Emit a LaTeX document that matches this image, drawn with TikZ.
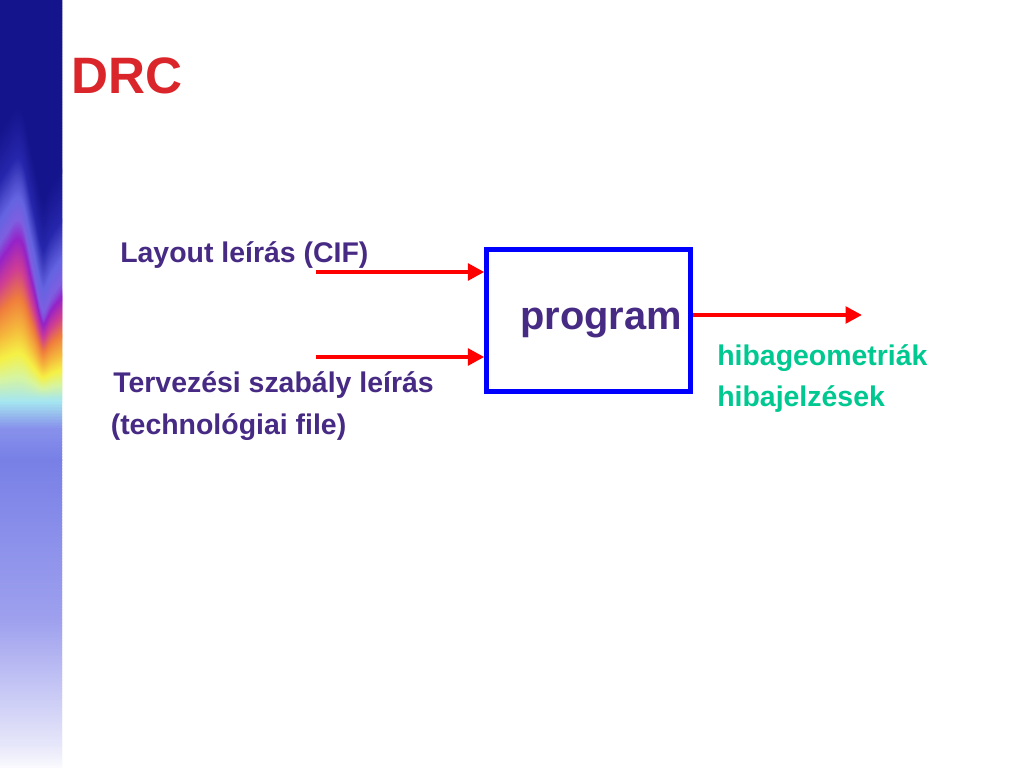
\documentclass[tikz,border=0pt]{standalone}
\usepackage{fontspec}
\setmainfont{Liberation Sans}
\usetikzlibrary{arrows.meta}
\definecolor{labpurple}{RGB}{70,42,132}
\definecolor{labgreen}{RGB}{0,200,145}
\definecolor{titlered}{RGB}{218,38,42}
\definecolor{boxblue}{RGB}{0,0,255}
\definecolor{arrred}{RGB}{255,0,0}
\definecolor{cnavy}{RGB}{20,20,140}
\definecolor{cnavtwo}{RGB}{38,38,172}
\definecolor{cglow}{RGB}{100,100,225}
\definecolor{clav}{RGB}{125,95,225}
\definecolor{cpurp}{RGB}{150,35,200}
\definecolor{cmag}{RGB}{205,60,150}
\definecolor{corng}{RGB}{240,125,60}
\definecolor{cylotwo}{RGB}{245,185,60}
\definecolor{cylw}{RGB}{245,240,70}
\definecolor{cpgrn}{RGB}{215,245,160}
\definecolor{cpcyn}{RGB}{165,230,240}
\definecolor{cbluone}{RGB}{135,145,235}
\definecolor{cblutwo}{RGB}{120,128,230}
\definecolor{cbluthree}{RGB}{158,160,238}
\definecolor{cpale}{RGB}{230,230,250}
\newcommand\stripband[4]{%
  \pgfmathsetmacro\bandn{int((#2-#1)/1.5)}%
  \foreach \k in {0,...,\bandn}{%
    \pgfmathsetmacro\ycur{#1+1.5*\k}%
    \pgfmathsetmacro\pct{int(100*\k/max(\bandn,1))}%
    \pgfmathsetmacro\ampl{90*min(1,max(0,(400-\ycur)/170))}%
    \colorlet{bandcol}{#4!\pct!#3}%
    \draw[bandcol, line width=2pt] plot[smooth, tension=0.6] coordinates
      {(-4,{\ycur+0.34*\ampl}) (8,{\ycur+0.12*\ampl}) (20,{\ycur}) (31,{\ycur+0.5*\ampl})
       (42,{\ycur+\ampl}) (53,{\ycur+0.82*\ampl}) (66,{\ycur+0.62*\ampl})};
  }}
\tikzset{
  lbl/.style={font=\bfseries\fontsize{20}{24}\selectfont, text=labpurple, anchor=base west, inner sep=0pt},
  outlbl/.style={lbl, text=labgreen},
  arr/.style={draw=arrred, line width=3.2pt, -{Triangle[length=11.5pt, width=11.5pt]}},
  progbox/.style={draw=boxblue, line width=3.5pt, minimum width=143.4pt, minimum height=100pt, inner sep=0pt}
}
\begin{document}
\begin{tikzpicture}[x=0.703125pt, y=-0.703125pt]
\useasboundingbox (0,0) rectangle (1024,768);
\fill[white] (0,0) rectangle (1024,768);
% left decorative strip
\begin{scope}
\clip (0,0) rectangle (62,768);
\fill[cnavy] (0,0) rectangle (62,120);
\stripband{-100}{110}{cnavy}{cnavy}
\stripband{110}{160}{cnavy}{cnavtwo}
\stripband{160}{200}{cnavtwo}{cglow}
\stripband{200}{222}{cglow}{clav}
\stripband{222}{242}{clav}{cpurp}
\stripband{242}{270}{cpurp}{cmag}
\stripband{270}{300}{cmag}{corng}
\stripband{300}{330}{corng}{cylotwo}
\stripband{330}{355}{cylotwo}{cylw}
\stripband{355}{378}{cylw}{cpgrn}
\stripband{378}{402}{cpgrn}{cpcyn}
\stripband{402}{430}{cpcyn}{cbluone}
\stripband{430}{460}{cbluone}{cblutwo}
\stripband{460}{620}{cblutwo}{cbluthree}
\stripband{620}{745}{cbluthree}{cpale}
\stripband{745}{775}{cpale}{white}
\end{scope}
% title
\node[anchor=base west, inner sep=0pt, text=titlered, font=\bfseries\fontsize{36}{43}\selectfont] (title) at (71,94) {DRC};
% program box
\node[progbox] (prog) at (588.8,320.4) {};
\node[anchor=base west, inner sep=0pt, text=labpurple, font=\bfseries\fontsize{28}{33}\selectfont] (progtxt) at (520,330) {program};
% input labels
\node[lbl] (inone) at (120,263) {Layout leírás (CIF)};
\node[lbl] (intwoa) at (113,392) {Tervezési szabály leírás};
\node[lbl] (intwob) at (110.5,434) {(technológiai file)};
% output labels
\node[outlbl] (outa) at (717,365) {hibageometriák};
\node[outlbl] (outb) at (717,406) {hibajelzések};
% arrows
\coordinate (sone) at (316,272);
\coordinate (stwo) at (316,357);
\coordinate (eout) at (862,315);
\draw[arr] (sone) -- (sone -| prog.west);
\draw[arr] (stwo) -- (stwo -| prog.west);
\draw[arr] (eout -| prog.east) -- (eout);
\end{tikzpicture}
\end{document}
